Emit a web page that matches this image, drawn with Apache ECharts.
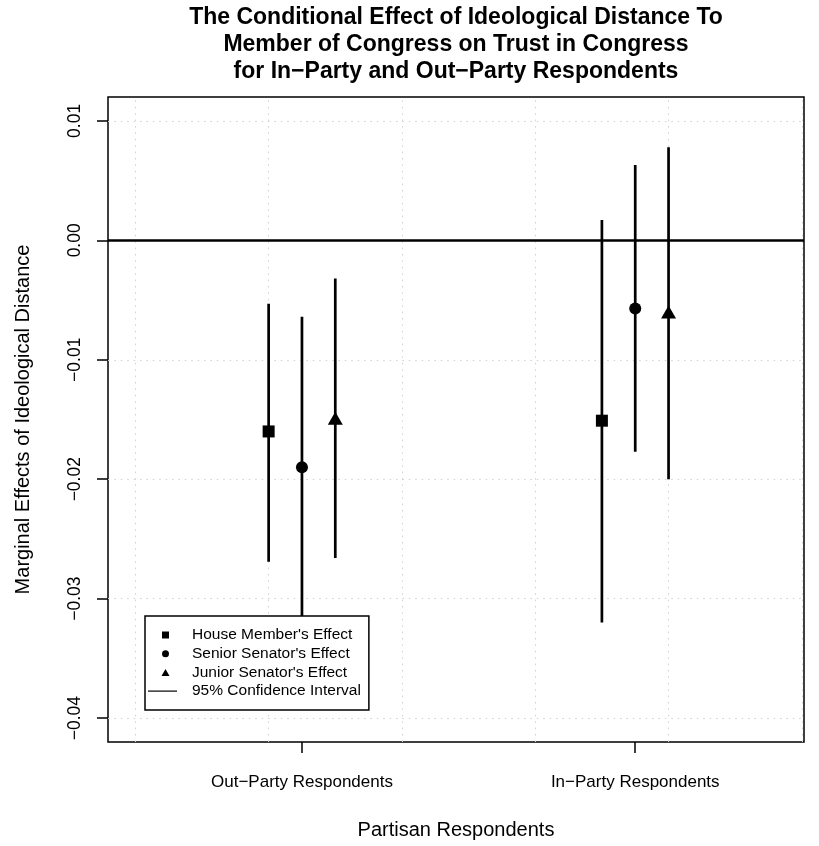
<!DOCTYPE html>
<html>
<head>
<meta charset="utf-8">
<script src="https://cdn.jsdelivr.net/npm/echarts@6/dist/echarts.min.js"></script>
<style>
  html, body { margin: 0; padding: 0; background: #ffffff; }
  #chart { width: 819px; height: 846px; }
</style>
</head>
<body>
<div id="chart"></div>
<script>
// ---------------- data ----------------
const categories = ['Out\u2212Party Respondents', 'In\u2212Party Respondents'];
const categoryX = [1.25, 3.75];
const memberNames = ["House Member's Effect", "Senior Senator's Effect", "Junior Senator's Effect"];
const memberOffset = [-0.25, 0, 0.25];
const memberSymbols = ['rect', 'circle', 'triangle'];
const ciName = '95% Confidence Interval';

const houseEst  = [-0.0160, -0.0151];
const houseLo   = [-0.0269, -0.0320];
const houseHi   = [-0.0053,  0.0017];

const seniorEst = [-0.0190, -0.0057];
const seniorLo  = [-0.0317, -0.0177];
const seniorHi  = [-0.0064,  0.0063];

const juniorEst = [-0.0149, -0.0060];
const juniorLo  = [-0.0266, -0.0200];
const juniorHi  = [-0.0032,  0.0078];

const yTicks = [-0.04, -0.03, -0.02, -0.01, 0.00, 0.01];
const xGridValues = [0, 1, 2, 3, 4, 5];

const estimates = [houseEst, seniorEst, juniorEst];
const lows = [houseLo, seniorLo, juniorLo];
const highs = [houseHi, seniorHi, juniorHi];

// ---------------- chart ----------------
const FONT = "'Liberation Sans', Arial, Helvetica, sans-serif";
const chart = echarts.init(document.getElementById('chart'), null, { renderer: 'canvas' });

function fmtY(v) {
  const r = Math.round(v * 100) / 100;
  return (r < 0 ? '\u2212' : '') + Math.abs(r).toFixed(2);
}

// legend icons (invisible move-to points fix the icon box so the glyph stays small)
const ICON_SQUARE   = 'path://M0,0M29,7M14,0L21,0L21,7L14,7Z';
const ICON_CIRCLE   = 'path://M0,0M29,7M14,3.5A3.5,3.5,0,1,1,21,3.5A3.5,3.5,0,1,1,14,3.5Z';
const ICON_TRIANGLE = 'path://M0,0M29,7M17.5,0L21.5,7L13.5,7Z';
const ICON_LINE     = 'path://M0,0L29,0L29,1.2L0,1.2Z';

const series = [];

// dotted grid lines
series.push({
  type: 'line', name: '__grid', data: [], silent: true, z: 1,
  markLine: {
    silent: true, z: 1, symbol: ['none', 'none'], label: { show: false },
    lineStyle: { color: '#d3d3d3', width: 1, type: [1.6, 4.8] },
    emphasis: { disabled: true },
    data: xGridValues.map(v => ({ xAxis: v })).concat(yTicks.map(v => ({ yAxis: v })))
  }
});

// zero line
series.push({
  type: 'line', name: '__zero', data: [], silent: true, z: 3,
  markLine: {
    silent: true, z: 3, symbol: ['none', 'none'], label: { show: false },
    lineStyle: { color: '#000', width: 2.5, type: 'solid' },
    emphasis: { disabled: true },
    data: [{ yAxis: 0 }]
  }
});

// confidence intervals
for (let m = 0; m < 3; m++) {
  for (let c = 0; c < categories.length; c++) {
    const x = categoryX[c] + memberOffset[m];
    series.push({
      type: 'line', name: ciName, z: 4, silent: true,
      symbol: 'none', showSymbol: false,
      lineStyle: { color: '#000', width: 2.7 },
      itemStyle: { color: '#000' },
      data: [[x, lows[m][c]], [x, highs[m][c]]]
    });
  }
}

// point estimates
for (let m = 0; m < 3; m++) {
  series.push({
    type: 'scatter', name: memberNames[m], z: 5, silent: true,
    symbol: memberSymbols[m],
    symbolSize: m === 2 ? [15, 13] : 12,
    itemStyle: { color: '#000', opacity: 1 },
    data: categoryX.map((cx, c) => [cx + memberOffset[m], estimates[m][c]])
  });
}

const option = {
  animation: false,
  backgroundColor: '#ffffff',
  textStyle: { fontFamily: FONT },
  title: {
    text: 'The Conditional Effect of Ideological Distance To\nMember of Congress on Trust in Congress\nfor In\u2212Party and Out\u2212Party Respondents',
    left: 456, top: 4, padding: 0,
    textAlign: 'center',
    textStyle: { fontFamily: FONT, fontSize: 23, fontWeight: 'bold', color: '#000', lineHeight: 27 }
  },
  grid: {
    left: 108, top: 97, width: 696, height: 645,
    show: true, borderColor: '#000', borderWidth: 1.5, backgroundColor: 'transparent',
    containLabel: false
  },
  legend: {
    orient: 'vertical', left: 145, top: 616, z: 10,
    backgroundColor: '#ffffff', borderColor: '#000', borderWidth: 1.5, borderRadius: 0,
    padding: [11, 8, 11, 3],
    itemWidth: 29, itemHeight: 7, itemGap: 2.7,
    selectedMode: false,
    textStyle: { fontFamily: FONT, fontSize: 15.5, color: '#000', lineHeight: 16, padding: [0, 0, 0, 10] },
    data: [
      { name: memberNames[0], icon: ICON_SQUARE, itemStyle: { color: '#000' } },
      { name: memberNames[1], icon: ICON_CIRCLE, itemStyle: { color: '#000' } },
      { name: memberNames[2], icon: ICON_TRIANGLE, itemStyle: { color: '#000' } },
      { name: ciName, icon: ICON_LINE, itemStyle: { color: '#000' } }
    ]
  },
  xAxis: {
    type: 'value', min: -0.205, max: 5.016,
    name: 'Partisan Respondents', nameLocation: 'middle', nameGap: 78,
    nameTextStyle: { fontFamily: FONT, fontSize: 20, color: '#000' },
    axisLine: { show: false, onZero: false },
    splitLine: { show: false },
    axisTick: { show: true, customValues: categoryX, length: 11, inside: false, lineStyle: { color: '#000', width: 1.5 } },
    axisLabel: {
      show: true, customValues: categoryX, margin: 32,
      fontFamily: FONT, fontSize: 17, color: '#000',
      formatter: function (v) {
        for (let i = 0; i < categoryX.length; i++) { if (Math.abs(categoryX[i] - v) < 1e-6) return categories[i]; }
        return '';
      }
    }
  },
  yAxis: {
    type: 'value', min: -0.042, max: 0.012,
    name: 'Marginal Effects of Ideological Distance', nameLocation: 'middle', nameGap: 75, nameRotate: 90,
    nameTextStyle: { fontFamily: FONT, fontSize: 20, color: '#000' },
    axisLine: { show: false, onZero: false },
    splitLine: { show: false },
    axisTick: { show: true, customValues: yTicks, length: 11, inside: false, lineStyle: { color: '#000', width: 1.5 } },
    axisLabel: {
      show: true, customValues: yTicks, margin: 24, rotate: 90,
      fontFamily: FONT, fontSize: 17.5, color: '#000',
      formatter: fmtY
    }
  },
  series: series
};

chart.setOption(option);
</script>
</body>
</html>
